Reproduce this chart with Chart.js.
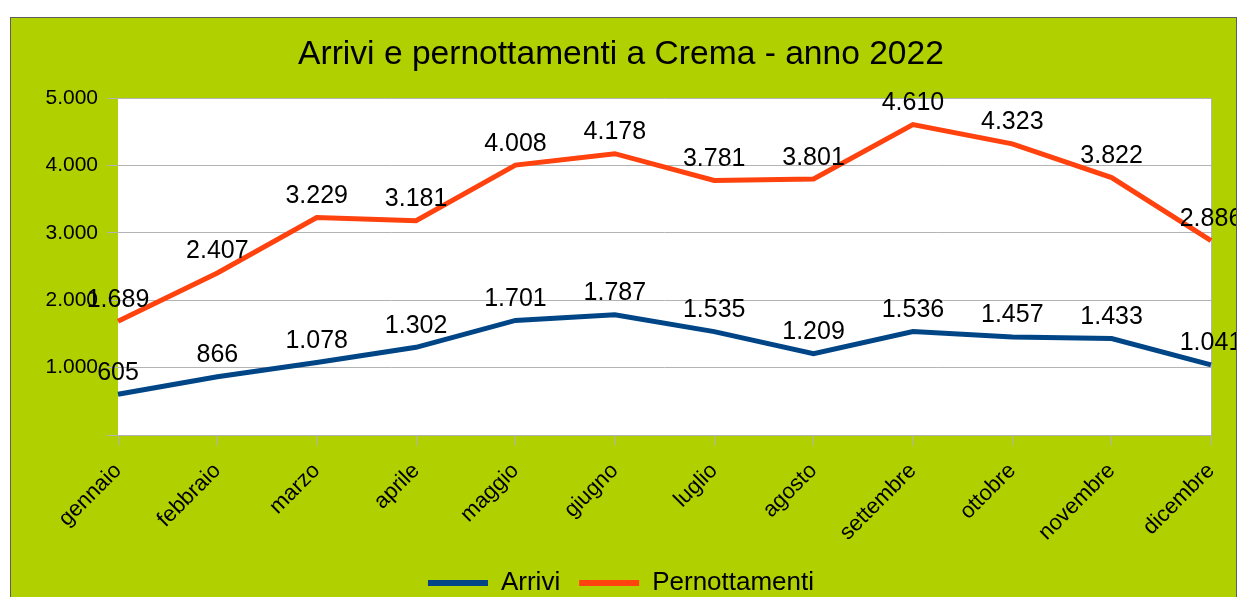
<!DOCTYPE html>
<html>
<head>
<meta charset="utf-8">
<script src="https://cdn.jsdelivr.net/npm/chart.js@4/dist/chart.umd.min.js"></script>
<style>
  html, body { margin: 0; padding: 0; background: #ffffff; width: 1239px; height: 597px; overflow: hidden; }
  #box { position: absolute; left: 10px; top: 17px; width: 1225px; height: 600px; background: #b0d000; border: 1px solid #5e5e5e; overflow: hidden; }
  #wrap { position: absolute; left: -11px; top: -18px; width: 1239px; height: 597px; }
</style>
</head>
<body>
<div id="box"><div id="wrap"><canvas id="c" width="1239" height="597"></canvas></div></div>
<script>
const categories = ["gennaio","febbraio","marzo","aprile","maggio","giugno","luglio","agosto","settembre","ottobre","novembre","dicembre"];
const arrivi = [605, 866, 1078, 1302, 1701, 1787, 1535, 1209, 1536, 1457, 1433, 1041];
const pernottamenti = [1689, 2407, 3229, 3181, 4008, 4178, 3781, 3801, 4610, 4323, 3822, 2886];
const titleText = "Arrivi e pernottamenti a Crema - anno 2022";
const seriesNames = ["Arrivi", "Pernottamenti"];
const yMin = 0, yMax = 5000, yStep = 1000;

const FONT = "'Liberation Sans', Arial, sans-serif";
function fmt(v) {
  const s = String(Math.round(v));
  return s.replace(/\B(?=(\d{3})+(?!\d))/g, ".");
}

const plotBg = {
  id: 'plotBg',
  beforeDraw(chart) {
    const a = chart.chartArea, ctx = chart.ctx;
    ctx.save();
    ctx.fillStyle = '#ffffff';
    ctx.fillRect(a.left, a.top, a.right - a.left, a.bottom - a.top);
    ctx.strokeStyle = '#b3b3b3';
    ctx.lineWidth = 1;
    ctx.beginPath();
    ctx.moveTo(a.right + 0.5, a.top);
    ctx.lineTo(a.right + 0.5, a.bottom);
    ctx.stroke();
    ctx.restore();
  }
};

const valueLabels = {
  id: 'valueLabels',
  afterDatasetsDraw(chart) {
    const ctx = chart.ctx;
    ctx.save();
    ctx.font = "25px " + FONT;
    ctx.fillStyle = '#000000';
    ctx.textAlign = 'center';
    ctx.textBaseline = 'alphabetic';
    chart.data.datasets.forEach((ds, i) => {
      const meta = chart.getDatasetMeta(i);
      meta.data.forEach((pt, j) => {
        ctx.fillText(fmt(ds.data[j]), pt.x, pt.y - 14.5);
      });
    });
    ctx.restore();
  }
};

new Chart(document.getElementById('c'), {
  type: 'line',
  data: {
    labels: categories,
    datasets: [
      { label: seriesNames[0], data: arrivi, borderColor: '#004586', backgroundColor: '#004586', borderWidth: 5, pointRadius: 0, tension: 0 },
      { label: seriesNames[1], data: pernottamenti, borderColor: '#ff420e', backgroundColor: '#ff420e', borderWidth: 5, pointRadius: 0, tension: 0 }
    ]
  },
  options: {
    responsive: false,
    animation: false,
    devicePixelRatio: 1,
    layout: { padding: { top: 17, right: 28, left: 31, bottom: -9 } },
    plugins: {
      title: {
        display: true, text: titleText, color: '#000000',
        font: { family: FONT, size: 33.6, weight: 'normal' },
        padding: { top: 18, bottom: 23 }
      },
      legend: {
        display: true, position: 'bottom',
        labels: {
          color: '#000000', font: { family: FONT, size: 26 },
          boxWidth: 60, boxHeight: 6, padding: 19,
          generateLabels(chart) {
            return chart.data.datasets.map((ds, i) => ({
              text: ds.label, fillStyle: ds.borderColor, strokeStyle: ds.borderColor,
              lineWidth: 0, hidden: false, datasetIndex: i, fontColor: '#000000'
            }));
          }
        }
      },
      tooltip: { enabled: false }
    },
    scales: {
      x: {
        offset: false,
        grid: { display: true, drawOnChartArea: false, drawTicks: true, tickLength: 11, color: '#b3b3b3' },
        border: { display: true, color: '#b3b3b3' },
        ticks: { color: '#000000', font: { family: FONT, size: 22 }, minRotation: 45, maxRotation: 45, padding: 12, autoSkip: false },
        afterFit(scale) { scale.height = 116; scale.paddingLeft = 0; scale.paddingRight = 0; }
      },
      y: {
        min: yMin, max: yMax,
        grid: { color: '#b3b3b3', tickLength: 11 },
        border: { display: false },
        ticks: { stepSize: yStep, color: '#000000', font: { family: FONT, size: 21 }, padding: 9,
          callback: (v) => v === 0 ? '' : fmt(v) },
        afterFit(scale) { scale.width = 87; }
      }
    }
  },
  plugins: [plotBg, valueLabels]
});
</script>
</body>
</html>
